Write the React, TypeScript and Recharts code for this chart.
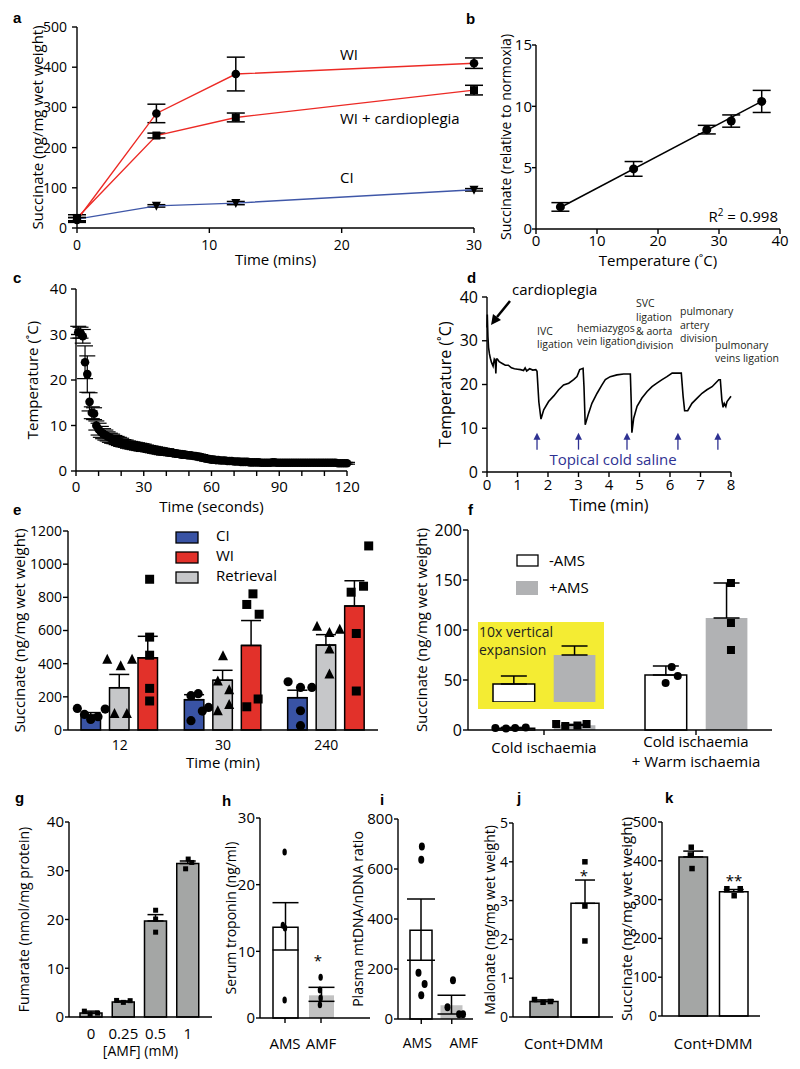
import React from "react";
import { BarChart, ComposedChart, Bar, Line, Scatter, XAxis, YAxis, ErrorBar, Cell } from "recharts";

// a: succinate during ischaemia
const aTime = [0, 6, 12, 30];
const aWI = [20, 285, 383, 410];
const aWIErr = [6, 23, 42, 13];
const aWIC = [25, 230, 275, 343];
const aWICErr = [8, 6, 11, 12];
const aCI = [22, 55, 62, 95];
const aCIErr = [4, 3, 4, 3];

// b: succinate vs temperature
const bTemp = [4, 16, 28, 32, 37];
const bSucc = [1.8, 4.9, 8.1, 8.8, 10.4];
const bErr = [0.35, 0.6, 0.35, 0.5, 0.9];
const bFitTemp = [4, 37];
const bFit = [1.75, 10.4];

// c: cooling curve, one reading per second (1..120 s)
const cTemp = [
  30.5, 30.4, 29.6, 23.9, 21.3, 15.2, 12.8, 12.6, 10.0, 9.2,
  8.6, 8.2, 7.9, 7.6, 7.3, 7.1, 6.9, 6.7, 6.5, 6.3,
  6.1, 6.0, 5.8, 5.7, 5.6, 5.5, 5.4, 5.3, 5.2, 5.1,
  5.0, 4.9, 4.8, 4.7, 4.6, 4.5, 4.4, 4.3, 4.2, 4.2,
  4.1, 4.0, 3.9, 3.9, 3.8, 3.7, 3.6, 3.6, 3.5, 3.4,
  3.4, 3.3, 3.3, 3.2, 3.1, 2.9, 2.8, 2.7, 2.6, 2.5,
  2.5, 2.4, 2.4, 2.3, 2.3, 2.3, 2.2, 2.2, 2.2, 2.1,
  2.1, 2.1, 2.0, 2.0, 2.0, 2.0, 1.9, 1.9, 1.9, 1.9,
  1.9, 1.8, 1.8, 1.8, 1.8, 1.8, 1.9, 1.9, 1.8, 1.8,
  1.8, 1.8, 1.8, 1.8, 1.8, 1.8, 1.8, 1.8, 1.8, 1.8,
  1.8, 1.8, 1.8, 1.8, 1.8, 1.8, 1.8, 1.8, 1.8, 1.8,
  1.8, 1.8, 1.8, 1.8, 1.8, 1.7, 1.7, 1.7, 1.7, 1.7,
];
const cErr = [
  1.3, 1.2, 1.5, 3.6, 4.0, 2.0, 1.3, 1.3, 1.0, 1.3,
  1.2, 1.1, 1.1, 1.0, 1.0, 1.0, 0.9, 0.9, 0.9, 0.9,
  0.8, 0.8, 0.8, 0.8, 0.8, 0.8, 0.8, 0.8, 0.8, 0.8,
  0.7, 0.7, 0.7, 0.7, 0.7, 0.7, 0.7, 0.7, 0.7, 0.7,
  0.6, 0.6, 0.6, 0.6, 0.6, 0.6, 0.6, 0.6, 0.6, 0.6,
  0.5, 0.5, 0.5, 0.5, 0.5, 0.5, 0.5, 0.5, 0.5, 0.5,
  0.4, 0.4, 0.4, 0.4, 0.4, 0.4, 0.4, 0.4, 0.4, 0.4,
  0.3, 0.3, 0.3, 0.3, 0.3, 0.3, 0.3, 0.3, 0.3, 0.3,
  0.3, 0.3, 0.3, 0.3, 0.3, 0.3, 0.3, 0.3, 0.3, 0.3,
  0.2, 0.2, 0.2, 0.2, 0.2, 0.2, 0.2, 0.2, 0.2, 0.2,
  0.2, 0.2, 0.2, 0.2, 0.2, 0.2, 0.2, 0.2, 0.2, 0.2,
  0.2, 0.2, 0.2, 0.2, 0.2, 0.2, 0.2, 0.2, 0.2, 0.2,
];

// d: donor heart temperature trace (min, degC)
const dT = [
  0, 0.01, 0.03, 0.05, 0.08, 0.11, 0.15, 0.2, 0.24, 0.27, 0.29, 0.31, 0.34, 0.4, 0.5, 0.6, 0.7, 0.8, 0.9, 1.0, 1.1, 1.2, 1.25, 1.3, 1.4, 1.5, 1.6, 1.64,
  1.7, 1.77, 1.86, 2.02, 2.19, 2.35, 2.51, 2.68, 2.84, 2.95, 3.04, 3.15,
  3.18, 3.22, 3.33, 3.44, 3.61, 3.77, 3.88, 4.04, 4.26, 4.48, 4.7,
  4.73, 4.75, 4.81, 4.92, 5.08, 5.25, 5.41, 5.57, 5.74, 5.9, 6.07, 6.37,
  6.43, 6.48, 6.58, 6.72, 6.89, 7.05, 7.21, 7.38, 7.49, 7.6, 7.65,
  7.7, 7.74, 7.78, 7.83, 7.87, 8.0,
];
const dV = [
  33, 36, 31, 28.5, 27, 26, 25, 24.2, 25.8, 25.5, 22.5, 25.8, 25.8, 25.2, 24.8, 24.4, 24.4, 23.8, 23.6, 23.5, 23.4, 23.2, 23.8, 23.1, 23.6, 23.3, 23.4, 23.0,
  16, 12.1, 14.2, 16.1, 17.4, 18.8, 19.9, 20.3, 21.1, 21.8, 23.4, 23.7,
  19.5, 10.8, 13.4, 15.7, 18, 19.9, 21.1, 21.8, 22.2, 22.4, 22.4,
  15.7, 9, 12.3, 15, 16.9, 18.4, 19.5, 20.3, 21.1, 21.8, 22.6, 22.6,
  17.3, 14, 14, 15.7, 16.9, 18, 18.8, 19.5, 20.3, 21.1, 21.1,
  16.5, 14.8, 15.7, 15, 16.1, 17.3,
];
const dSalineT = [1.64, 3.0, 4.59, 6.26, 7.57];
const dSalineV = [9, 9, 9, 9, 9];

// e: CI / WI / retrieval
const eTimes = ["12", "30", "240"];
const eCI = [90, 183, 195];
const eCIErr = [15, 30, 45];
const eRet = [255, 300, 512];
const eRetErr = [80, 60, 63];
const eWI = [435, 510, 748];
const eWIErr = [130, 150, 152];
const eCIx = [0.09, 0.16, 0.22, 0.29, 0.36, 1.19, 1.26, 1.3, 1.36, 1.19, 2.13, 2.25, 2.36, 2.25, 2.25];
const eCIv = [130, 94, 64, 80, 126, 207, 219, 114, 136, 56, 291, 257, 257, 116, 26];
const eRetx = [0.38, 0.51, 0.62, 0.45, 0.57, 1.5, 1.45, 1.56, 1.45, 1.56, 2.41, 2.53, 2.63, 2.53, 2.53];
const eRetv = [427, 387, 427, 100, 100, 447, 295, 243, 116, 154, 626, 588, 608, 488, 337];
const eWIx = [0.79, 0.79, 0.79, 0.79, 0.79, 1.73, 1.79, 1.85, 1.73, 1.84, 2.91, 2.74, 2.86, 2.79, 2.79];
const eWIv = [909, 560, 451, 251, 175, 757, 821, 698, 140, 187, 1110, 831, 867, 582, 235];

// f: AMS
const fCats = ["Cold ischaemia", "Cold ischaemia|+ Warm ischaemia"];
const fMinus = [1.8, 55];
const fMinusErr = [0.8, 9];
const fPlus = [4.7, 112];
const fPlusErr = [0.9, 35];
const fMinusX = [0.18, 0.25, 0.31, 0.38, 1.3, 1.34, 1.38];
const fMinusV = [2, 1.5, 2, 2.5, 47, 63, 54];
const fPlusX = [0.58, 0.64, 0.72, 0.78, 1.73, 1.73, 1.73];
const fPlusV = [6, 4, 4.5, 6, 147, 107, 80];

// g: fumarate vs AMF
const gCats = ["0", "0.25", "0.5", "1"];
const gVals = [0.8, 3.1, 19.7, 31.5];
const gErr = [0.4, 0.2, 1.3, 0.5];
const gX = [0.29, 0.47, 0.7, 1.29, 1.5, 1.71, 2.5, 2.5, 2.5, 3.43, 3.51, 3.62];
const gV = [1.2, 0.5, 0.8, 3.4, 3.0, 3.35, 21.9, 20.1, 17.4, 30.4, 32.4, 31.7];

// h, i: AMS vs AMF
const hiCats = ["AMS", "AMF"];
const hVals = [13.6, 3.4];
const hErr = [[3.4, 3.7], [0.9, 1.2]];
const hX = [0.49, 0.44, 0.5, 0.49, 1.49, 1.47, 1.49, 1.47];
const hV = [24.9, 13.9, 13.5, 2.7, 6.1, 4.2, 3.0, 2.0];
const iVals = [355, 55];
const iErr = [[120, 125], [35, 40]];
const iX = [0.52, 0.5, 0.41, 0.61, 0.5, 1.54, 1.36, 1.74, 1.87];
const iV = [690, 637, 185, 140, 95, 155, 47, 19, 19];

// j, k: DMM
const jkCats = ["Cont", "+DMM"];
const jVals = [0.4, 2.93];
const jErr = [[0, 0.04], [0, 0.6]];
const jX = [0.28, 0.49, 0.67, 1.51, 1.51, 1.51];
const jV = [0.45, 0.38, 0.4, 4.0, 2.86, 1.96];
const kVals = [410, 320];
const kErr = [[0, 15], [0, 6]];
const kX = [0.45, 0.43, 0.47, 1.33, 1.51, 1.66];
const kV = [435, 415, 380, 328, 310, 328];

const FONT = '"Open Sans", "Noto Sans", sans-serif';
const RED = "#ec2a25";
const BLUE = "#3f57a8";
const AX = { stroke: "#000", strokeWidth: 1.4 };
const tk = (fs: number) => ({ fill: "#000", fontSize: fs });
const yTitle = (value: string, offset: number, fs = 15) => ({
  value, angle: -90, position: "insideLeft", offset,
  style: { textAnchor: "middle", fontSize: fs, fill: "#000" },
});
const xTitle = (value: string, offset: number, fs = 15) => ({
  value, position: "insideBottom", offset, style: { fontSize: fs, fill: "#000" },
});

const T = 26, R = 14;
const place = (x0: number, y0: number, x1: number, y1: number, yw: number, xh = 45) => ({
  pos: { position: "absolute" as const, left: x0 - yw, top: y0 - T },
  width: x1 - x0 + yw + R,
  height: y1 - y0 + T + xh,
  margin: { top: T, right: R, left: 0, bottom: 0 },
});

const pts = (xs: number[], vs: number[]) => xs.map((u, i) => ({ u, v: vs[i] }));

// markers
const circle = (r: number) => (p: any) => <circle key={p.index} cx={p.cx} cy={p.cy} r={r} fill="#000" />;
const square = (s: number) => (p: any) => <rect key={p.index} x={p.cx - s / 2} y={p.cy - s / 2} width={s} height={s} fill="#000" />;
const ellipse = (rx: number, ry: number) => (p: any) => <ellipse key={p.index} cx={p.cx} cy={p.cy} rx={rx} ry={ry} fill="#000" />;
const triUp = (s: number) => (p: any) => (
  <polygon key={p.index} points={`${p.cx},${p.cy - s * 0.55} ${p.cx - s / 2},${p.cy + s * 0.45} ${p.cx + s / 2},${p.cy + s * 0.45}`} fill="#000" />
);
const triDown = (s: number) => (p: any) => (
  <polygon key={p.index} points={`${p.cx},${p.cy + s * 0.55} ${p.cx - s / 2},${p.cy - s * 0.45} ${p.cx + s / 2},${p.cy - s * 0.45}`} fill="#000" />
);
const upArrow = (p: any) => (
  <g key={p.index}>
    <line x1={p.cx} y1={p.cy + 4} x2={p.cx} y2={p.cy + 17} stroke="#2e3192" strokeWidth={1.3} />
    <polygon points={`${p.cx},${p.cy} ${p.cx - 3.5},${p.cy + 7} ${p.cx + 3.5},${p.cy + 7}`} fill="#2e3192" />
  </g>
);
const none = () => <g />;

// category tick with a small per-label nudge (labels in the original are not exactly under the bars)
const nudgedTick = (dxs: number[], fs: number) => (p: any) => (
  <text x={p.x + (dxs[p.index] || 0)} y={p.y} dy="0.71em" textAnchor="middle" fontSize={fs} fill="#000">
    {p.payload.value}
  </text>
);

function PanelA() {
  const f = place(77, 27, 474, 228, 77);
  const rows = aTime.map((t, i) => ({
    t, wi: aWI[i], wiErr: aWIErr[i], wic: aWIC[i], wicErr: aWICErr[i], ci: aCI[i], ciErr: aCIErr[i],
  }));
  const eb = (k: string) => <ErrorBar dataKey={k} width={9} stroke="#000" strokeWidth={1.5} direction="y" />;
  return (
    <div style={f.pos}>
      <ComposedChart width={f.width} height={f.height} margin={f.margin} data={rows}>
        <XAxis dataKey="t" type="number" domain={[0, 30]} ticks={[0, 10, 20, 30]} axisLine={AX} tickLine={AX}
          tickSize={5} tickMargin={7} tick={tk(14)} height={45} label={xTitle("Time (mins)", 8)} />
        <YAxis domain={[0, 500]} ticks={[0, 100, 200, 300, 400, 500]} width={77} axisLine={AX} tickLine={AX}
          tickSize={5} tickMargin={5} tick={tk(14)} label={yTitle("Succinate (ng/mg wet weight)", 38)} />
        <Line dataKey="ci" stroke={BLUE} strokeWidth={1.4} dot={triDown(9)} isAnimationActive={false}>{eb("ciErr")}</Line>
        <Line dataKey="wic" stroke={RED} strokeWidth={1.4} dot={square(8)} isAnimationActive={false}>{eb("wicErr")}</Line>
        <Line dataKey="wi" stroke={RED} strokeWidth={1.4} dot={circle(4.3)} isAnimationActive={false}>{eb("wiErr")}</Line>
      </ComposedChart>
    </div>
  );
}

function PanelB() {
  const f = place(536, 45, 780, 229, 60);
  const data = bTemp.map((t, i) => ({ t, v: bSucc[i], err: bErr[i] }));
  const fit = bFitTemp.map((t, i) => ({ t, v: bFit[i] }));
  return (
    <div style={f.pos}>
      <ComposedChart width={f.width} height={f.height} margin={f.margin}>
        <XAxis dataKey="t" type="number" domain={[0, 40]} ticks={[0, 10, 20, 30, 40]} axisLine={AX} tickLine={AX}
          tickSize={5} tickMargin={1} tick={tk(15)} height={45} label={xTitle("Temperature (˚C)", 8)} />
        <YAxis domain={[0, 15]} ticks={[0, 5, 10, 15]} width={60} axisLine={AX} tickLine={AX}
          tickSize={4} tickMargin={0} tick={tk(15)} label={yTitle("Succinate (relative to normoxia)", 30, 14)} />
        <Scatter data={fit} dataKey="v" line={{ stroke: "#000", strokeWidth: 1.5 }} shape={none} isAnimationActive={false} />
        <Scatter data={data} dataKey="v" shape={circle(4.5)} isAnimationActive={false}>
          <ErrorBar dataKey="err" width={9} stroke="#000" strokeWidth={1.5} direction="y" />
        </Scatter>
      </ComposedChart>
    </div>
  );
}

function PanelC() {
  const f = place(76, 289, 347, 471, 70);
  const data = cTemp.map((v, i) => ({ t: i + 1, v, err: cErr[i] }));
  const ticks = [0, 10, 20, 30, 40, 50, 60, 70, 80, 90, 100, 110, 120];
  return (
    <div style={f.pos}>
      <ComposedChart width={f.width} height={f.height} margin={f.margin}>
        <XAxis dataKey="t" type="number" domain={[0, 120]} ticks={ticks} interval={0}
          tickFormatter={(v: number) => (v % 30 === 0 ? String(v) : "")} axisLine={AX} tickLine={AX}
          tickSize={5} tickMargin={5} tick={tk(15)} height={45} label={xTitle("Time (seconds)", 4)} />
        <YAxis domain={[0, 40]} ticks={[0, 10, 20, 30, 40]} width={70} axisLine={AX} tickLine={AX}
          tickSize={5} tickMargin={4} tick={tk(15)} label={yTitle("Temperature (˚C)", 27)} />
        <Scatter data={data} dataKey="v" shape={circle(4.3)} isAnimationActive={false}>
          <ErrorBar dataKey="err" width={8} stroke="#000" strokeWidth={1.2} direction="y" />
        </Scatter>
      </ComposedChart>
    </div>
  );
}

function PanelD() {
  const f = place(487, 297, 731, 472, 60);
  const rows = dT.map((t, i) => ({ t, v: dV[i] }));
  const saline = dSalineT.map((t, i) => ({ t, v: dSalineV[i] }));
  return (
    <div style={f.pos}>
      <ComposedChart width={f.width} height={f.height} margin={f.margin} data={rows}>
        <XAxis dataKey="t" type="number" domain={[0, 8]} ticks={[0, 1, 2, 3, 4, 5, 6, 7, 8]} interval={0}
          axisLine={AX} tickLine={AX} tickSize={5} tickMargin={2} tick={tk(15)} height={45}
          label={xTitle("Time (min)", 6, 16)} />
        <YAxis domain={[0, 40]} ticks={[0, 10, 20, 30, 40]} width={60} axisLine={AX} tickLine={AX}
          tickSize={5} tickMargin={4} tick={tk(16)} label={yTitle("Temperature (˚C)", 18, 16)} />
        <Line dataKey="v" type="linear" stroke="#000" strokeWidth={1.6} dot={false} isAnimationActive={false} />
        <Scatter data={saline} dataKey="v" shape={upArrow} isAnimationActive={false} />
      </ComposedChart>
    </div>
  );
}

function PanelE() {
  const f = place(68, 531, 378, 730, 66);
  const rows = eTimes.map((c, i) => ({
    c, ci: eCI[i], ciErr: [0, eCIErr[i]], ret: eRet[i], retErr: [0, eRetErr[i]], wi: eWI[i], wiErr: [0, eWIErr[i]],
  }));
  const eb = (k: string) => <ErrorBar dataKey={k} width={10} stroke="#000" strokeWidth={1.5} />;
  return (
    <div style={f.pos}>
      <ComposedChart width={f.width} height={f.height} margin={f.margin} data={rows} barGap={9}>
        <XAxis dataKey="c" axisLine={AX} tickLine={false} tickSize={5} tickMargin={5} tick={tk(14)} height={45}
          label={xTitle("Time (min)", 7)} />
        <XAxis xAxisId="j" type="number" dataKey="u" domain={[0, 3]} hide allowDataOverflow />
        <YAxis domain={[0, 1200]} ticks={[0, 200, 400, 600, 800, 1000, 1200]} width={66} axisLine={AX} tickLine={AX}
          tickSize={5} tickMargin={1} tick={tk(14)} label={yTitle("Succinate (ng/mg wet weight)", 18)} />
        <Bar dataKey="ci" fill="#3953a4" stroke="#000" strokeWidth={1.5} barSize={19.5} isAnimationActive={false}>{eb("ciErr")}</Bar>
        <Bar dataKey="ret" fill="#c6c7c9" stroke="#000" strokeWidth={1.5} barSize={19.5} isAnimationActive={false}>{eb("retErr")}</Bar>
        <Bar dataKey="wi" fill="#e2312a" stroke="#000" strokeWidth={1.5} barSize={19.5} isAnimationActive={false}>{eb("wiErr")}</Bar>
        <Scatter xAxisId="j" data={pts(eCIx, eCIv)} dataKey="v" shape={circle(4.6)} isAnimationActive={false} />
        <Scatter xAxisId="j" data={pts(eRetx, eRetv)} dataKey="v" shape={triUp(10)} isAnimationActive={false} />
        <Scatter xAxisId="j" data={pts(eWIx, eWIv)} dataKey="v" shape={square(9)} isAnimationActive={false} />
      </ComposedChart>
    </div>
  );
}

const fTick = (p: any) => {
  const lines = String(p.payload.value).split("|");
  const first = lines.length === 1 ? 18 : 12;
  return (
    <g>
      {lines.map((s, i) => (
        <text key={i} x={p.x} y={p.y + first + i * 20} textAnchor="middle" fontSize={15} fill="#000">{s}</text>
      ))}
    </g>
  );
};

function PanelF() {
  const f = place(468, 530, 772, 730, 60);
  const rows = fCats.map((c, i) => ({
    c, minus: fMinus[i], minusErr: [0, fMinusErr[i]], plus: fPlus[i], plusErr: [0, fPlusErr[i]],
  }));
  const inset = [rows[0]];
  const eb = (k: string) => <ErrorBar dataKey={k} width={13} stroke="#000" strokeWidth={1.5} />;
  return (
    <>
      <div style={f.pos}>
        <ComposedChart width={f.width} height={f.height} margin={f.margin} data={rows} barGap={19}>
          <XAxis dataKey="c" axisLine={AX} tickLine={AX} tickSize={5} tickMargin={0} tick={fTick} height={45} interval={0} />
          <XAxis xAxisId="j" type="number" dataKey="u" domain={[0, 2]} hide allowDataOverflow />
          <YAxis domain={[0, 200]} ticks={[0, 50, 100, 150, 200]} width={60} axisLine={AX} tickLine={AX}
            tickSize={5} tickMargin={1} tick={tk(16)} label={yTitle("Succinate (ng/mg wet weight)", 14)} />
          <Bar dataKey="minus" fill="#fff" stroke="#000" strokeWidth={1.5} barSize={41.7} isAnimationActive={false}>{eb("minusErr")}</Bar>
          <Bar dataKey="plus" fill="#b1b2b4" barSize={41.7} isAnimationActive={false}>{eb("plusErr")}</Bar>
          <Scatter xAxisId="j" data={pts(fMinusX, fMinusV)} dataKey="v" shape={circle(4)} isAnimationActive={false} />
          <Scatter xAxisId="j" data={pts(fPlusX, fPlusV)} dataKey="v" shape={square(8)} isAnimationActive={false} />
        </ComposedChart>
      </div>
      <div style={{ position: "absolute", left: 478, top: 622, width: 126, height: 87, background: "#f4ec33" }} />
      <div style={{ position: "absolute", left: 468, top: 622 }}>
        <BarChart width={152} height={80} margin={{ top: 0, right: 0, left: 0, bottom: 0 }} data={inset} barGap={19}>
          <XAxis dataKey="c" hide />
          <YAxis domain={[0, 8]} hide />
          <Bar dataKey="minus" fill="#fff" stroke="#000" strokeWidth={1.5} barSize={41.7} isAnimationActive={false}>{eb("minusErr")}</Bar>
          <Bar dataKey="plus" fill="#b1b2b4" barSize={41.7} isAnimationActive={false}>{eb("plusErr")}</Bar>
        </BarChart>
      </div>
    </>
  );
}

function SmallBars(p: any) {
  const f = place(p.x0, p.y0, p.x1, p.y1, p.yw);
  const rows = p.cats.map((c: string, i: number) => ({ c, v: p.vals[i], e: p.errs[i] }));
  const tick = p.dxs ? nudgedTick(p.dxs, p.xfs) : tk(p.xfs);
  return (
    <div style={f.pos}>
      <ComposedChart width={f.width} height={f.height} margin={f.margin} data={rows}>
        <XAxis dataKey="c" padding={p.pad} axisLine={AX} tickLine={p.xTicks ? AX : false} tickSize={5}
          tickMargin={p.tm} tick={tick} height={45} interval={0}
          label={p.xTitle ? xTitle(p.xTitle, p.xOff, p.tfs) : undefined} />
        <XAxis xAxisId="j" type="number" dataKey="u" domain={[0, p.cats.length]} padding={p.pad} hide allowDataOverflow />
        <YAxis domain={p.domain} ticks={p.ticks} width={p.yw} axisLine={AX} tickLine={AX} tickSize={4}
          tickMargin={1} tick={tk(p.yfs)} label={yTitle(p.yTitle, p.yOff, p.tfs)} />
        <Bar dataKey="v" barSize={p.barSize} isAnimationActive={false}>
          {rows.map((r: any, i: number) => (
            <Cell key={i} fill={p.fills[i]} stroke={p.strokes[i]} strokeWidth={1.5} />
          ))}
          <ErrorBar dataKey="e" width={p.cap} stroke="#000" strokeWidth={1.5} />
        </Bar>
        <Scatter xAxisId="j" data={pts(p.px, p.pv)} dataKey="v" shape={p.marker} isAnimationActive={false} />
      </ComposedChart>
    </div>
  );
}

function Overlay() {
  const letters: [string, number, number][] = [
    ["a", 13, 23], ["b", 466, 24], ["c", 13, 283], ["d", 467, 283], ["e", 13, 515], ["f", 468, 515],
    ["g", 15, 803], ["h", 222, 806], ["i", 380, 805], ["j", 517, 803], ["k", 665, 803],
  ];
  const dNotes: [string, number, number][] = [
    ["IVC", 537, 335], ["ligation", 537, 348],
    ["hemiazygos", 577, 332], ["vein ligation", 577, 345],
    ["SVC", 636, 307], ["ligation", 636, 321], ["& aorta", 636, 335], ["division", 636, 349],
    ["pulmonary", 680, 315], ["artery", 680, 329], ["division", 680, 342],
    ["pulmonary", 715, 349], ["veins ligation", 715, 362],
  ];
  return (
    <svg width={800} height={1069} style={{ position: "absolute", left: 0, top: 0, pointerEvents: "none" }}>
      {letters.map(([s, x, y]) => (
        <text key={s} x={x} y={y} fontSize={15} fontWeight="bold" fontFamily="'Liberation Sans', Arial, sans-serif">{s}</text>
      ))}
      <g fontSize={15} fill="#000">
        <text x={340} y={60}>WI</text>
        <text x={340} y={124}>WI + cardioplegia</text>
        <text x={340} y={183}>CI</text>
        <text x={778} y={222} textAnchor="end">R<tspan dy={-6} fontSize={10}>2</tspan><tspan dy={6}> = 0.998</tspan></text>
        <text x={512} y={295}>cardioplegia</text>
      </g>
      <line x1={510} y1={301} x2={497} y2={317} stroke="#000" strokeWidth={2.5} />
      <polygon points="491,325 501,320 493,314" fill="#000" />
      <g fontSize={10.5} fill="#231f20">
        {dNotes.map(([s, x, y], i) => <text key={i} x={x} y={y}>{s}</text>)}
      </g>
      <text x={613} y={465} textAnchor="middle" fontSize={15} fill="#2e3192">Topical cold saline</text>
      {/* e legend */}
      <rect x={176} y={532} width={22} height={11} fill="#3953a4" stroke="#000" strokeWidth={1.3} />
      <rect x={176} y={552} width={22} height={11} fill="#e2312a" stroke="#000" strokeWidth={1.3} />
      <rect x={176} y={572} width={22} height={11} fill="#c6c7c9" stroke="#000" strokeWidth={1.3} />
      <g fontSize={15} fill="#000">
        <text x={216} y={541}>CI</text>
        <text x={216} y={561}>WI</text>
        <text x={216} y={581}>Retrieval</text>
      </g>
      {/* f legend and inset text */}
      <rect x={517} y={555} width={21} height={11} fill="#fff" stroke="#000" strokeWidth={1.3} />
      <rect x={516} y={581} width={22} height={14} fill="#b1b2b4" />
      <g fontSize={15} fill="#000">
        <text x={549} y={566}>-AMS</text>
        <text x={549} y={593}>+AMS</text>
      </g>
      <g fontSize={14} fill="#231f20">
        <text x={479} y={637}>10x vertical</text>
        <text x={479} y={655}>expansion</text>
      </g>
      <g fontSize={15} fill="#000" textAnchor="middle">
        <text x={318} y={966}>*</text>
        <text x={584} y={881}>*</text>
        <text x={734} y={886}>**</text>
      </g>
    </svg>
  );
}

export default function App() {
  const G = "#a4a6a5";
  return (
    <div style={{ position: "absolute", left: 0, top: 0, width: 800, height: 1069, background: "#fff", fontFamily: FONT }}>
      <PanelA />
      <PanelB />
      <PanelC />
      <PanelD />
      <PanelE />
      <PanelF />
      <SmallBars x0={69} y0={822} x1={212} y1={1017} yw={62} cats={gCats} vals={gVals} errs={gErr.map((e) => [0, e])}
        fills={[G, G, G, G]} strokes={["#000", "#000", "#000", "#000"]} px={gX} pv={gV} marker={square(5)}
        domain={[0, 40]} ticks={[0, 10, 20, 30, 40]} pad={{ left: 6, right: 8 }} barSize={22} cap={8}
        xTicks={false} tm={6} xfs={15} yfs={15} tfs={14} yTitle="Fumarate (nmol/mg protein)" yOff={17}
        xTitle="[AMF] (mM)" xOff={6} />
      <SmallBars x0={260} y0={818} x1={370} y1={1018} yw={40} cats={hiCats} vals={hVals} errs={hErr}
        fills={["#fff", "#c2c2c2"]} strokes={["#000", "none"]} px={hX} pv={hV} marker={ellipse(2.2, 3.5)}
        domain={[0, 30]} ticks={[0, 10, 20, 30]} pad={{ left: 7, right: 31 }} barSize={25} cap={13}
        xTicks tm={15} xfs={15} yfs={15} tfs={14} yTitle="Serum troponin (ng/ml)" yOff={11} />
      <SmallBars x0={398} y0={819} x1={473} y1={1019} yw={50} cats={hiCats} vals={iVals} errs={iErr}
        fills={["#fff", "#c2c2c2"]} strokes={["#000", "none"]} px={iX} pv={iV} marker={ellipse(3, 4)}
        domain={[0, 800]} ticks={[0, 200, 400, 600, 800]} pad={{ left: 8, right: 6 }} barSize={22} cap={14}
        xTicks tm={14} xfs={14} yfs={15} tfs={14} yTitle="Plasma mtDNA/nDNA ratio" yOff={10} dxs={[-4, 12]} />
      <SmallBars x0={513} y0={823} x1={613} y1={1017} yw={38} cats={jkCats} vals={jVals} errs={jErr}
        fills={[G, "#fff"]} strokes={["#000", "#000"]} px={jX} pv={jV} marker={square(5.5)}
        domain={[0, 5]} ticks={[0, 1, 2, 3, 4, 5]} pad={{ left: 10, right: 8 }} barSize={28} cap={10}
        xTicks={false} tm={16} xfs={15} yfs={14} tfs={14} yTitle="Malonate (ng/mg wet weight)" yOff={15}
        dxs={[-3, -4.5]} />
      <SmallBars x0={662} y0={822} x1={760} y1={1016} yw={45} cats={jkCats} vals={kVals} errs={kErr}
        fills={[G, "#fff"]} strokes={["#000", "#000"]} px={kX} pv={kV} marker={square(5.5)}
        domain={[0, 500]} ticks={[0, 100, 200, 300, 400, 500]} pad={{ left: 11, right: 6 }} barSize={28.5} cap={10}
        xTicks={false} tm={17} xfs={15} yfs={14} tfs={15} yTitle="Succinate (ng/mg wet weight)" yOff={10}
        dxs={[-3, -4.5]} />
      <Overlay />
    </div>
  );
}
